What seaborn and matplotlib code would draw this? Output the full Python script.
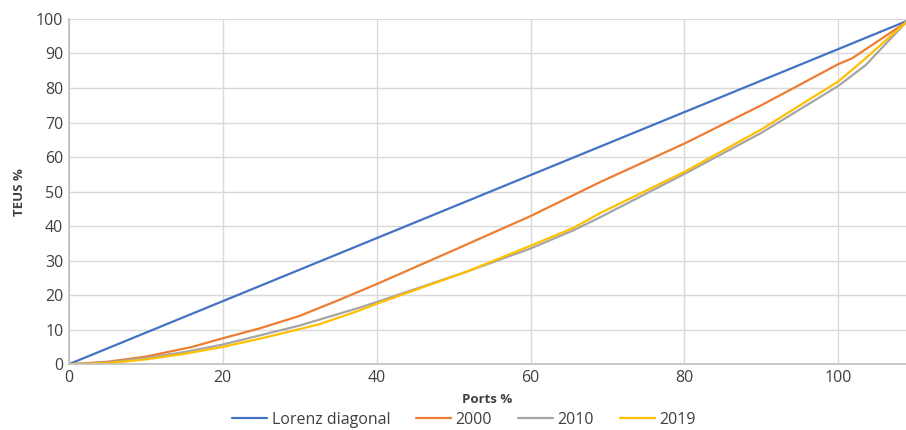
import pandas as pd
import matplotlib.pyplot as plt
import seaborn as sns

# --- dados ---
lorenz_x = [0, 108.8]
lorenz_y = [0, 99.3]

x_2000 = [0, 5, 10, 16, 20, 25, 30, 35, 40, 50, 60, 69, 80, 90, 100, 101.8, 108.8]
y_2000 = [0, 0.7, 2.2, 5, 7.5, 10.5, 14, 18.5, 23.2, 33, 42.9, 52.7, 63.9, 75, 86.9, 88.6, 99]

x_2010 = [0, 5, 10, 15, 20, 30, 37.8, 40, 51.7, 60, 65.6, 69, 80, 90, 100, 103.6, 108.8]
y_2010 = [0, 0.5, 1.8, 3.5, 5.7, 11.2, 16.4, 18, 26.8, 33.5, 38.8, 42.5, 55.1, 67, 80.6, 86.7, 99]

x_2019 = [0, 5, 10, 15, 20, 26, 32.6, 37.8, 40, 51.7, 60, 65.6, 69, 80, 90, 100, 103.1, 108.8]
y_2019 = [0, 0.3, 1.4, 3, 5, 8, 11.6, 15.6, 17.5, 26.8, 34.3, 39.5, 43.7, 55.7, 68, 81.9, 87.7, 99]

series = [
    ('Lorenz diagonal', lorenz_x, lorenz_y, '#4472C4'),
    ('2000', x_2000, y_2000, '#ED7D31'),
    ('2010', x_2010, y_2010, '#A5A5A5'),
    ('2019', x_2019, y_2019, '#FFC000'),
]

sns.set_theme(style="white")
plt.rcParams['font.family'] = ['Open Sans', 'DejaVu Sans']

fig = plt.figure(figsize=(9.06, 4.3), dpi=100)
ax = fig.add_axes([0.076, 0.153, 0.924, 0.803])

for name, xs, ys, color in series:
    df = pd.DataFrame({'x': xs, 'y': ys})
    sns.lineplot(data=df, x='x', y='y', ax=ax, color=color, lw=1.6, sort=False, label=name)

ax.set_xlim(0, 108.8)
ax.set_ylim(0, 100)
ax.set_xticks(range(0, 101, 20))
ax.set_yticks(range(0, 101, 10))
ax.grid(True, color='#D9D9D9', lw=1)
ax.set_axisbelow(True)
for s in ['top', 'right']:
    ax.spines[s].set_visible(False)
for s in ['left', 'bottom']:
    ax.spines[s].set_color('#BFBFBF')
    ax.spines[s].set_linewidth(1.2)
ax.tick_params(axis='both', length=0, labelsize=11.5, colors='#404040', pad=4)

ax.set_xlabel('Ports %', fontsize=9.5, fontweight='bold', color='#404040', labelpad=5)
ax.set_ylabel('TEUS %', fontsize=9.5, fontweight='bold', color='#404040', labelpad=7)

ax.get_legend().remove()
handles, labels = ax.get_legend_handles_labels()
fig.legend(handles, labels, loc='lower center', bbox_to_anchor=(0.512, -0.028), ncol=4,
           frameon=False, fontsize=11.5, handlelength=2.2, handletextpad=0.3, columnspacing=1.6,
           labelcolor='#404040')

fig.savefig('out.png', dpi=100)
